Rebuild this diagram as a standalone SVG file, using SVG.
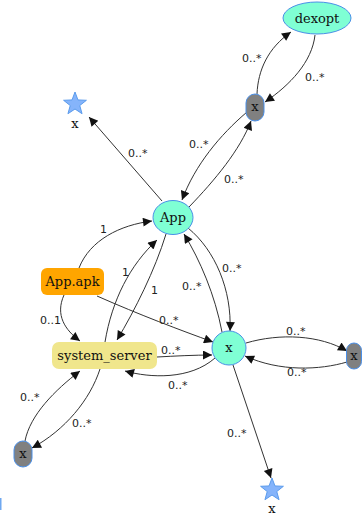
<svg xmlns="http://www.w3.org/2000/svg" width="363" height="520" viewBox="0 0 363 520">
<style>
.edge{fill:none;stroke:#333;stroke-width:1;marker-end:url(#arr)}
.lbl{font-family:"DejaVu Sans",sans-serif;font-size:11px;fill:#222}
.nt{font-family:"DejaVu Serif",serif;font-size:13px;fill:#111;text-anchor:middle}
.nb{stroke:#4a8fe7;stroke-width:1}
.star{fill:#85b4fb;stroke:#5a9bec;stroke-width:1}
</style>
<defs>
<marker id="arr" viewBox="0 0 10 10" refX="10" refY="5" markerWidth="12" markerHeight="9" markerUnits="userSpaceOnUse" orient="auto">
<path d="M0,0 L10,5 L0,10 z" fill="#111"/>
</marker>
<polygon id="starshape" points="0,-12 2.94,-4.05 11.41,-3.71 4.76,1.55 7.05,9.71 0,5 -7.05,9.71 -4.76,1.55 -11.41,-3.71 -2.94,-4.05"/>
</defs>
<rect width="363" height="520" fill="#fff"/>
<g id="edges">
<path class="edge" d="M257,94 C258,70 268,48 291,32"/>
<path class="edge" d="M315,35 C312,62 290,85 265,102"/>
<path class="edge" d="M162,201 L89,117"/>
<path class="edge" d="M247,112 C220,135 195,165 182,200"/>
<path class="edge" d="M189,207 C215,180 240,150 251,121"/>
<path class="edge" d="M79,268 C90,240 120,225 152,221"/>
<path class="edge" d="M64,295 C55,315 65,330 80,341"/>
<path class="edge" d="M97,296 C140,315 180,330 213,342"/>
<path class="edge" d="M105,342 C112,300 130,265 157,240"/>
<path class="edge" d="M166,234 C155,270 135,310 117,340"/>
<path class="edge" d="M25,441 C30,415 55,390 80,371"/>
<path class="edge" d="M100,369 C90,400 65,430 32,448"/>
<path class="edge" d="M188,228 C215,250 232,290 230,331"/>
<path class="edge" d="M222,332 C215,295 200,260 184,234"/>
<path class="edge" d="M157,357 C175,356 195,355 212,355"/>
<path class="edge" d="M215,358 C190,380 150,378 125,371"/>
<path class="edge" d="M246,343 C280,333 320,335 347,351"/>
<path class="edge" d="M347,362 C320,370 280,372 245,356"/>
<path class="edge" d="M233,365 L271,478"/>
<text class="lbl" x="242" y="62">0..*</text>
<text class="lbl" x="305" y="81">0..*</text>
<text class="lbl" x="128" y="157">0..*</text>
<text class="lbl" x="189" y="148">0..*</text>
<text class="lbl" x="224" y="183">0..*</text>
<text class="lbl" x="100" y="233">1</text>
<text class="lbl" x="40" y="324">0..1</text>
<text class="lbl" x="159" y="324">0..*</text>
<text class="lbl" x="122" y="276">1</text>
<text class="lbl" x="151" y="294">1</text>
<text class="lbl" x="20" y="401">0..*</text>
<text class="lbl" x="72" y="427">0..*</text>
<text class="lbl" x="222" y="272">0..*</text>
<text class="lbl" x="182" y="290">0..*</text>
<text class="lbl" x="161" y="354">0..*</text>
<text class="lbl" x="168" y="389">0..*</text>
<text class="lbl" x="286" y="335">0..*</text>
<text class="lbl" x="287" y="376">0..*</text>
<text class="lbl" x="227" y="437">0..*</text>
</g>
<g id="dexopt">
<ellipse class="nb" cx="317" cy="18" rx="34" ry="16" fill="#7fffd4"/>
<text class="nt" x="317" y="23" font-size="14">dexopt</text>
</g>
<g id="x_top">
<rect class="nb" x="246" y="94" width="18" height="27" rx="9" fill="#808080"/>
<text class="nt" x="255" y="111">x</text>
</g>
<g id="star_top">
<use href="#starshape" class="star" transform="translate(75,104)"/>
<text class="nt" x="75" y="128">x</text>
</g>
<g id="App">
<ellipse class="nb" cx="173" cy="217.5" rx="20" ry="17" fill="#7fffd4"/>
<text class="nt" x="173" y="222" font-size="14">App</text>
</g>
<g id="App_apk">
<rect x="41" y="268" width="63" height="27" rx="6" fill="#ffa500"/>
<text class="nt" x="72.5" y="286">App.apk</text>
</g>
<g id="system_server">
<rect x="52" y="342" width="105" height="27" rx="7" fill="#f0e68c"/>
<text class="nt" x="104.5" y="360">system_server</text>
</g>
<g id="x_mid">
<circle class="nb" cx="229" cy="348" r="17" fill="#7fffd4"/>
<text class="nt" x="229" y="352">x</text>
</g>
<g id="x_right">
<rect class="nb" x="346.5" y="343" width="15" height="26" rx="7.5" fill="#808080"/>
<text class="nt" x="354" y="360">x</text>
</g>
<g id="x_bottom_left">
<rect class="nb" x="14" y="441" width="18" height="26" rx="9" fill="#808080"/>
<text class="nt" x="23" y="458">x</text>
</g>
<g id="star_bottom">
<use href="#starshape" class="star" transform="translate(272,490)"/>
<text class="nt" x="272" y="513">x</text>
</g>
<g id="clipped_node">
<rect x="0" y="498" width="1.5" height="12" fill="#6fa8f0"/>
</g>
</svg>
